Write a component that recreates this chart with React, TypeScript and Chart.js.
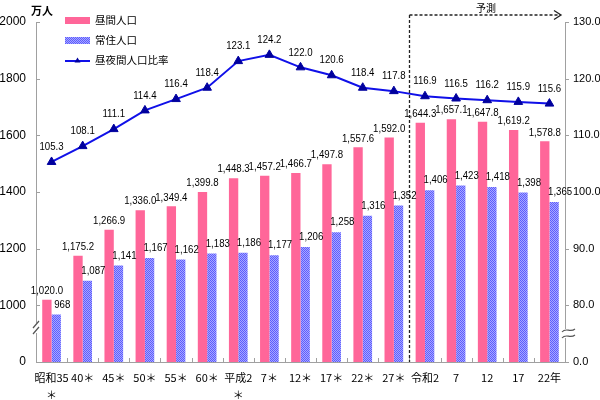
import React, { useEffect, useRef } from 'react';
import { Chart, registerables } from 'chart.js';

Chart.register(...registerables);

// ---- data ----
const categories: (string | string[])[] = [
  ['昭和35', '＊'], '40＊', '45＊', '50＊', '55＊', '60＊', ['平成2', '＊'], '7＊', '12＊', '17＊', '22＊', '27＊',
  '令和2', '7', '12', '17', '22年',
];
const daytimePopulation = [1020.0, 1175.2, 1266.9, 1336.0, 1349.4, 1399.8, 1448.3, 1457.2, 1466.7, 1497.8, 1557.6, 1592.0, 1644.3, 1657.1, 1647.8, 1619.2, 1578.8];
const residentPopulation = [968, 1087, 1141, 1167, 1162, 1183, 1186, 1177, 1206, 1258, 1316, 1352, 1406, 1423, 1418, 1398, 1365];
const dayNightRatio = [105.3, 108.1, 111.1, 114.4, 116.4, 118.4, 123.1, 124.2, 122.0, 120.6, 118.4, 117.8, 116.9, 116.5, 116.2, 115.9, 115.6];
const seriesNames = ['昼間人口', '常住人口', '昼夜間人口比率'];
const leftAxisMin = 800; // shown as "0" (broken axis)
const leftAxisMax = 2000;
const leftAxisStep = 200;
const rightAxisMin = 70; // shown as "0.0" (broken axis)
const rightAxisMax = 130;
const rightAxisStep = 10;
const forecastStartIndex = 12;
const forecastLabel = '予測';
const unitLabel = '万人';

// ---- styles ----
const PINK = '#FF6699';
const LINE_BLUE = '#1010E8';
const MARKER_BLUE = '#00009E';
const AXIS = '#A0A0A0';
const CJK = '"Noto Sans CJK JP", "Noto Sans", sans-serif';
const NUM = '"Liberation Sans", sans-serif';

function makePattern(ctx: CanvasRenderingContext2D): CanvasPattern | string {
  const c = document.createElement('canvas');
  c.width = 2;
  c.height = 2;
  const g = c.getContext('2d');
  if (!g) return '#8080FF';
  g.fillStyle = '#A8A8FF';
  g.fillRect(0, 0, 2, 2);
  g.fillStyle = '#5C5CFF';
  g.fillRect(0, 0, 1, 1);
  g.fillRect(1, 1, 1, 1);
  return ctx.createPattern(c, 'repeat') || '#8080FF';
}

const fmt1 = (v: number) => v.toLocaleString('en-US', { minimumFractionDigits: 1, maximumFractionDigits: 1 });
const fmt0 = (v: number) => v.toLocaleString('en-US');

function narrowText(ctx: CanvasRenderingContext2D, text: string, x: number, y: number, sx = 0.84) {
  ctx.save();
  ctx.translate(x, y);
  ctx.scale(sx, 1);
  ctx.fillText(text, 0, 0);
  ctx.restore();
}

export default function App() {
  const ref = useRef<HTMLCanvasElement | null>(null);

  useEffect(() => {
    const canvas = ref.current;
    if (!canvas) return;
    const ctx0 = canvas.getContext('2d');
    if (!ctx0) return;
    const bluePattern = makePattern(ctx0);

    const overlay = {
      id: 'overlay',
      afterDatasetsDraw(chart: any) {
        const ctx = chart.ctx as CanvasRenderingContext2D;
        ctx.save();
        ctx.fillStyle = '#000';
        ctx.textAlign = 'center';
        ctx.textBaseline = 'middle';
        ctx.font = `11.5px ${NUM}`;
        const m0 = chart.getDatasetMeta(0);
        const m1 = chart.getDatasetMeta(1);
        const m2 = chart.getDatasetMeta(2);
        m0.data.forEach((el: any, i: number) => narrowText(ctx, fmt1(daytimePopulation[i]), el.x, el.y - 9));
        m1.data.forEach((el: any, i: number) => narrowText(ctx, fmt0(residentPopulation[i]), el.x + 6, el.y - 10));
        m2.data.forEach((el: any, i: number) => narrowText(ctx, dayNightRatio[i].toFixed(1), el.x, el.y - 15));
        ctx.restore();
      },
      afterDraw(chart: any) {
        const ctx = chart.ctx as CanvasRenderingContext2D;
        const { left, right, bottom } = chart.chartArea;
        const xs = chart.scales.x;
        const ys = chart.scales.y;
        const y1 = chart.scales.y1;
        ctx.save();
        // tick marks
        ctx.strokeStyle = AXIS;
        ctx.lineWidth = 1;
        ctx.beginPath();
        ys.ticks.forEach((t: any) => {
          const y = Math.round(ys.getPixelForValue(t.value)) + 0.5;
          ctx.moveTo(left, y);
          ctx.lineTo(left + 4, y);
        });
        y1.ticks.forEach((t: any) => {
          const y = Math.round(y1.getPixelForValue(t.value)) + 0.5;
          ctx.moveTo(right, y);
          ctx.lineTo(right + 4, y);
        });
        const n = categories.length;
        for (let i = 0; i <= n; i++) {
          const x = Math.round(left + (i * (right - left)) / n) + 0.5;
          ctx.moveTo(x, bottom);
          ctx.lineTo(x, bottom - 4);
        }
        ctx.stroke();

        // axis breaks
        ctx.fillStyle = '#fff';
        ctx.fillRect(left - 2, 323, 4, 10);
        ctx.strokeStyle = '#555';
        ctx.lineWidth = 1.2;
        ctx.beginPath();
        ctx.moveTo(left - 3, 328);
        ctx.lineTo(left + 3, 321);
        ctx.moveTo(left - 3, 334);
        ctx.lineTo(left + 3, 327);
        ctx.stroke();
        ctx.fillRect(right - 2, 329, 4, 9);
        ctx.beginPath();
        ctx.moveTo(right - 3, 332);
        ctx.bezierCurveTo(right + 1, 327, right + 5, 333, right + 10, 329);
        ctx.moveTo(right - 3, 338);
        ctx.bezierCurveTo(right + 1, 333, right + 5, 339, right + 10, 335);
        ctx.stroke();

        // forecast marker
        const xf = (xs.getPixelForValue(forecastStartIndex - 1) + xs.getPixelForValue(forecastStartIndex)) / 2;
        const xfr = Math.round(xf) + 0.5;
        ctx.strokeStyle = '#222';
        ctx.lineWidth = 1.3;
        ctx.setLineDash([3, 2]);
        ctx.beginPath();
        ctx.moveTo(xfr, 15);
        ctx.lineTo(xfr, bottom);
        ctx.moveTo(xfr, 15);
        ctx.lineTo(560, 15);
        ctx.stroke();
        ctx.setLineDash([]);
        ctx.beginPath();
        ctx.moveTo(554, 10.5);
        ctx.lineTo(561, 15);
        ctx.lineTo(554, 19.5);
        ctx.stroke();
        ctx.fillStyle = '#000';
        ctx.font = `10px ${CJK}`;
        ctx.textAlign = 'center';
        ctx.textBaseline = 'middle';
        ctx.fillText(forecastLabel, 486, 8);

        // unit label
        ctx.font = `bold 11px ${CJK}`;
        ctx.fillText(unitLabel, 42, 11);

        // legend
        ctx.fillStyle = PINK;
        ctx.fillRect(65, 17, 25, 7);
        ctx.fillStyle = bluePattern as any;
        ctx.fillRect(65, 37, 25, 7);
        ctx.strokeStyle = LINE_BLUE;
        ctx.lineWidth = 2;
        ctx.beginPath();
        ctx.moveTo(65, 61);
        ctx.lineTo(90, 61);
        ctx.stroke();
        ctx.fillStyle = MARKER_BLUE;
        ctx.beginPath();
        ctx.moveTo(77.5, 57.5);
        ctx.lineTo(80.5, 62.5);
        ctx.lineTo(74.5, 62.5);
        ctx.closePath();
        ctx.fill();
        ctx.fillStyle = '#000';
        ctx.font = `10.5px ${CJK}`;
        ctx.textAlign = 'left';
        ctx.fillText(seriesNames[0], 95, 20.5);
        ctx.fillText(seriesNames[1], 95, 40.5);
        ctx.fillText(seriesNames[2], 95, 60.5);
        ctx.restore();
      },
    };

    const chart = new Chart(canvas, {
      type: 'bar',
      data: {
        labels: categories as any,
        datasets: [
          {
            type: 'bar',
            label: seriesNames[0],
            data: daytimePopulation,
            backgroundColor: PINK,
            yAxisID: 'y',
            categoryPercentage: 0.6,
            barPercentage: 1.0,
            order: 2,
          },
          {
            type: 'bar',
            label: seriesNames[1],
            data: residentPopulation,
            backgroundColor: bluePattern as any,
            yAxisID: 'y',
            categoryPercentage: 0.6,
            barPercentage: 1.0,
            order: 2,
          },
          {
            type: 'line',
            label: seriesNames[2],
            data: dayNightRatio,
            yAxisID: 'y1',
            borderColor: LINE_BLUE,
            borderWidth: 2,
            pointStyle: 'triangle',
            pointRadius: 5,
            pointBackgroundColor: MARKER_BLUE,
            pointBorderColor: MARKER_BLUE,
            pointBorderWidth: 1,
            tension: 0,
            order: 0,
          } as any,
        ],
      },
      options: {
        animation: false,
        responsive: false,
        maintainAspectRatio: false,
        layout: { padding: { top: 22, left: 0, right: 0, bottom: 0 } },
        plugins: { legend: { display: false }, tooltip: { enabled: false } },
        scales: {
          x: {
            grid: { display: false, drawTicks: false },
            border: { display: true, color: AXIS },
            ticks: {
              color: '#000',
              padding: 8,
              maxRotation: 0,
              autoSkip: false,
              font: { family: CJK, size: 11, lineHeight: 1.5 },
            },
            afterFit: (s: any) => {
              s.height = 38;
            },
          },
          y: {
            position: 'left',
            min: leftAxisMin,
            max: leftAxisMax,
            grid: { display: false, drawTicks: false },
            border: { display: true, color: AXIS },
            ticks: {
              stepSize: leftAxisStep,
              padding: 10,
              color: '#000',
              font: { family: '"Liberation Sans", sans-serif', size: 12 },
              callback: (v: any) => (Number(v) === leftAxisMin ? '0' : String(v)),
            },
            afterFit: (s: any) => {
              s.width = 36;
            },
          },
          y1: {
            position: 'right',
            min: rightAxisMin,
            max: rightAxisMax,
            grid: { display: false, drawTicks: false },
            border: { display: true, color: AXIS },
            ticks: {
              stepSize: rightAxisStep,
              padding: 8,
              color: '#000',
              font: { family: '"Liberation Sans", sans-serif', size: 11 },
              callback: (v: any) => (Number(v) === rightAxisMin ? '0.0' : Number(v).toFixed(1)),
            },
            afterFit: (s: any) => {
              s.width = 35;
            },
          },
        },
      },
      plugins: [overlay],
    });

    return () => chart.destroy();
  }, []);

  return (
    <div style={{ position: 'fixed', left: 0, top: 0, width: 600, height: 400, background: '#fff' }}>
      <canvas ref={ref} width={600} height={400} style={{ width: 600, height: 400, display: 'block' }} />
    </div>
  );
}
